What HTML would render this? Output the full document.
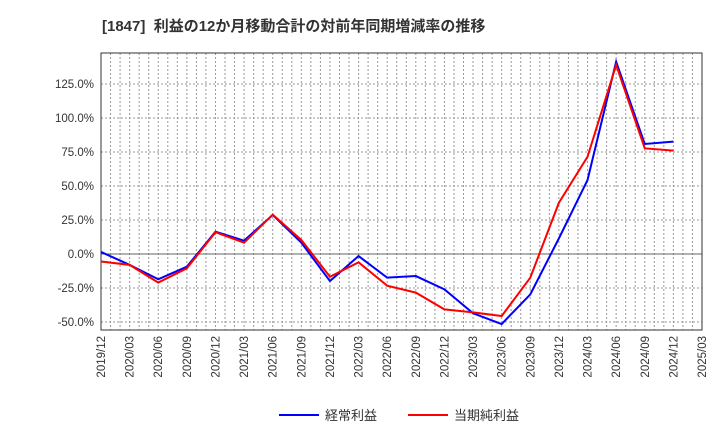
<!DOCTYPE html>
<html><head><meta charset="utf-8"><style>
body{margin:0;background:#fff;width:720px;height:440px;overflow:hidden;font-family:"Liberation Sans","Noto Sans CJK JP",sans-serif;}
</style></head><body>
<svg id="c" width="720" height="440" xmlns="http://www.w3.org/2000/svg">
<text x="102" y="31" font-size="15" font-weight="bold" fill="#333" style="white-space:pre" font-family="Liberation Sans, Noto Sans CJK JP, sans-serif">[1847]  利益の12か月移動合計の対前年同期増減率の推移</text>
</svg>
<script>
const categories=["2019/12","2020/03","2020/06","2020/09","2020/12","2021/03","2021/06","2021/09","2021/12","2022/03","2022/06","2022/09","2022/12","2023/03","2023/06","2023/09","2023/12","2024/03","2024/06","2024/09","2024/12","2025/03"];
const ordinaryProfit=[1.5,-8,-18.6,-9.3,16.4,9.8,28.7,8.3,-19.9,-1.5,-17.4,-16.2,-26,-43.6,-51.5,-29.7,11.5,54.4,141.4,80.9,82.6];
const netProfit=[-5.5,-8,-21,-10.5,16,8.3,29,10.3,-16.7,-6.1,-23.3,-28.4,-40.7,-42.9,-45.6,-17.4,37.7,71.5,139,77.7,76];
const yTicks=[-50,-25,0,25,50,75,100,125];
const yTickLabels=["-50.0%","-25.0%","0.0%","25.0%","50.0%","75.0%","100.0%","125.0%"];
const L=101,R=702,T=53,B=330;
const svg=document.getElementById('c');const NS="http://www.w3.org/2000/svg";
function x(i){return L+(R-L)*i/(categories.length-1);}
function y(v){return 254-v*34/25;}
function mk(t,a){const e=document.createElementNS(NS,t);for(const k in a)e.setAttribute(k,a[k]);svg.appendChild(e);return e;}
for(let m=1;m<(categories.length-1)*3;m++){const xx=L+(R-L)*m/((categories.length-1)*3);
const g=mk('line',{x1:xx,x2:xx,y1:T,y2:B,stroke:'#999','stroke-width':1,'stroke-dasharray':'2,2'});

}
yTicks.forEach((v,i)=>{const yy=y(v);
const g=mk('line',{x1:L,x2:R,y1:yy,y2:yy,stroke:v===0?'#666':'#999','stroke-width':1,'stroke-dasharray':v===0?'':'2,2'});


const t=mk('text',{x:L-7,y:yy+4,'font-size':11.5,'text-anchor':'end',fill:'#333'});t.textContent=yTickLabels[i];

});
categories.forEach((c,i)=>{const t=mk('text',{x:0,y:0,'font-size':11.5,'text-anchor':'end',fill:'#333',transform:`translate(${x(i)+4},${B+6}) rotate(-90)`});t.textContent=c;

});
const fr=mk('rect',{x:L,y:T,width:R-L,height:B-T,fill:'none',stroke:'#333','stroke-width':1});


function series(d,col,name){const p=mk('polyline',{points:d.map((v,i)=>x(i)+','+y(v)).join(' '),fill:'none',stroke:col,'stroke-width':2});

}
series(ordinaryProfit,'#0000ff','ordinary-profit-line');
series(netProfit,'#ff0000','net-profit-line');
function leg(lx,col,label,name){const g=mk('line',{x1:lx,x2:lx+40,y1:415,y2:415,stroke:col,'stroke-width':2});


const t=mk('text',{x:lx+46,y:420,'font-size':13,fill:'#333'});t.textContent=label;

}
leg(279,'#0000ff','経常利益','legend-ordinary-profit');
leg(408,'#ff0000','当期純利益','legend-net-profit');
</script>
</body></html>
